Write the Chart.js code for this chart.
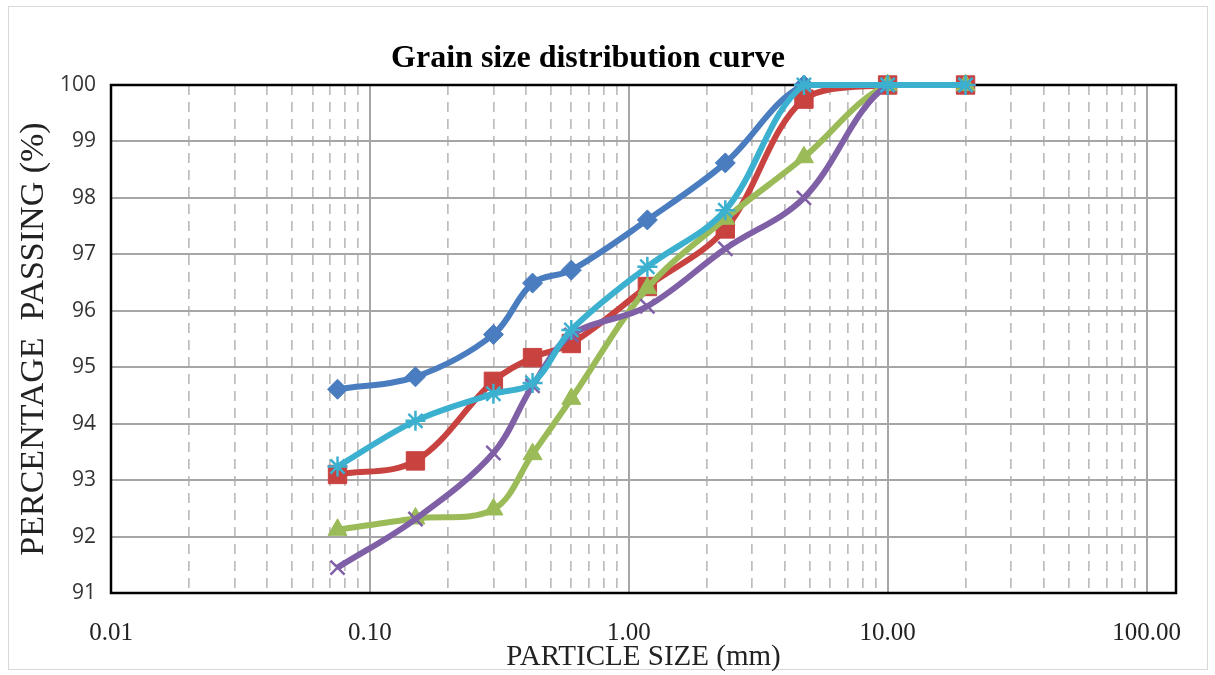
<!DOCTYPE html>
<html>
<head>
<meta charset="utf-8">
<script src="https://cdn.jsdelivr.net/npm/chart.js@4.4.0/dist/chart.umd.min.js"></script>
<style>
html,body{margin:0;padding:0;background:#fff;}
#wrap{position:relative;width:1215px;height:675px;overflow:hidden;}
#frame{position:absolute;left:8px;top:6px;width:1200px;height:664px;border:1px solid #d9d9d9;box-sizing:border-box;}
canvas{position:absolute;left:0;top:0;}
</style>
</head>
<body>
<div id="wrap"><div id="frame"></div><canvas id="c" width="1215" height="675"></canvas></div>
<script>
// Sieve sizes (mm)
const particleSizes = [0.075, 0.15, 0.3, 0.425, 0.6, 1.18, 2.36, 4.75, 10, 20];
// Percentage passing for each sample
const sampleBlue   = [94.61, 94.83, 95.58, 96.49, 96.72, 97.61, 98.62, 100, 100, 100];
const sampleRed    = [93.10, 93.34, 94.75, 95.17, 95.42, 96.43, 97.45, 99.75, 100, 100];
const sampleGreen  = [92.12, 92.32, 92.48, 93.46, 94.44, 96.40, 97.63, 98.72, 100, 100];
const samplePurple = [91.45, 92.31, 93.48, 94.67, 95.57, 96.08, 97.10, 98.00, 100, 100];
const sampleCyan   = [93.24, 94.05, 94.53, 94.72, 95.66, 96.78, 97.78, 100, 100, 100];
// Axis tick labels
const xDecades = [0.01, 0.1, 1, 10, 100];
const yTicks = [91, 92, 93, 94, 95, 96, 97, 98, 99, 100];

function isDecade(v){ const l = Math.log10(v); return Math.abs(l - Math.round(l)) < 1e-6; }
function pts(arr){ return particleSizes.map((x,i)=>({x:x, y:arr[i]})); }

const xTickValues = [];
xDecades.forEach(d => { for (let m = 1; m <= 9; m++) { const v = +(d*m).toPrecision(6); if (v <= 100) xTickValues.push(v); } });

const framePlugin = {
  id: 'frame',
  beforeDatasetsDraw(chart){
    const {ctx, chartArea:a} = chart;
    ctx.save();
    ctx.strokeStyle = '#000';
    ctx.lineWidth = 2.5;
    ctx.strokeRect(a.left, a.top, a.right - a.left, a.bottom - a.top);
    ctx.restore();
  }
};

function ds(label, data, color, style, radius, order){
  return {
    label, data: pts(data), borderColor: color, backgroundColor: color,
    pointBackgroundColor: color, pointBorderColor: color,
    pointStyle: style, pointRadius: radius, pointBorderWidth: (style==='crossRot'||style==='star') ? 2.5 : 1,
    borderWidth: 6, tension: 0.35, clip: false, order
  };
}

new Chart(document.getElementById('c'), {
  type: 'line',
  data: {
    datasets: [
      ds('Sample 1', sampleBlue, '#4a7dc0', 'rectRot', 10, 5),
      ds('Sample 2', sampleRed, '#c8423f', 'rect', 13, 4),
      ds('Sample 3', sampleGreen, '#9bbb59', 'triangle', 11, 3),
      ds('Sample 4', samplePurple, '#7f5fa6', 'crossRot', 10, 2),
      ds('Sample 5', sampleCyan, '#3cb0cf', 'star', 10, 1)
    ]
  },
  options: {
    responsive: false,
    animation: false,
    devicePixelRatio: 1,
    layout: { padding: { left: 0, right: 39, top: 0, bottom: 0 } },
    plugins: {
      legend: { display: false },
      tooltip: { enabled: false },
      title: {
        display: true,
        text: 'Grain size distribution curve',
        color: '#000',
        font: { family: 'Liberation Serif', size: 32, weight: 'bold' },
        padding: { top: 40, bottom: 6.6 }
      }
    },
    scales: {
      x: {
        type: 'logarithmic',
        min: 0.01, max: 130,
        afterBuildTicks: s => { s.ticks = xTickValues.map(v => ({ value: v })); },
        afterFit: s => { s.height = 82; },
        ticks: {
          autoSkip: false, maxRotation: 0, minRotation: 0, padding: 25,
          color: '#222',
          font: { family: 'Liberation Serif', size: 25 },
          callback: v => isDecade(v) ? Number(v).toFixed(2) : ''
        },
        grid: {
          drawTicks: false,
          color: c => (c.tick && isDecade(c.tick.value)) ? '#a6a6a6' : '#bdbdbd',
          lineWidth: c => (c.tick && isDecade(c.tick.value)) ? 2 : 1.7
        },
        border: {
          display: false,
          dash: c => (c.tick && !isDecade(c.tick.value)) ? [10, 7] : []
        },
        title: {
          display: true, text: 'PARTICLE SIZE (mm)', color: '#222',
          font: { family: 'Liberation Serif', size: 29 },
          padding: { top: 0, bottom: 0 }
        }
      },
      y: {
        min: 91, max: 100,
        afterBuildTicks: s => { s.ticks = yTicks.map(v => ({ value: v })); },
        afterFit: s => { s.width = 111; },
        ticks: {
          padding: 15, color: '#333',
          font: { family: 'Open Sans', size: 21 }
        },
        grid: { drawTicks: false, color: '#a6a6a6', lineWidth: 2 },
        border: { display: false },
        title: {
          display: true, text: 'PERCENTAGE  PASSING (%)', color: '#222',
          font: { family: 'Liberation Serif', size: 34 },
          padding: { top: 14, bottom: 0 }
        }
      }
    }
  },
  plugins: [framePlugin]
});
</script>
</body>
</html>
